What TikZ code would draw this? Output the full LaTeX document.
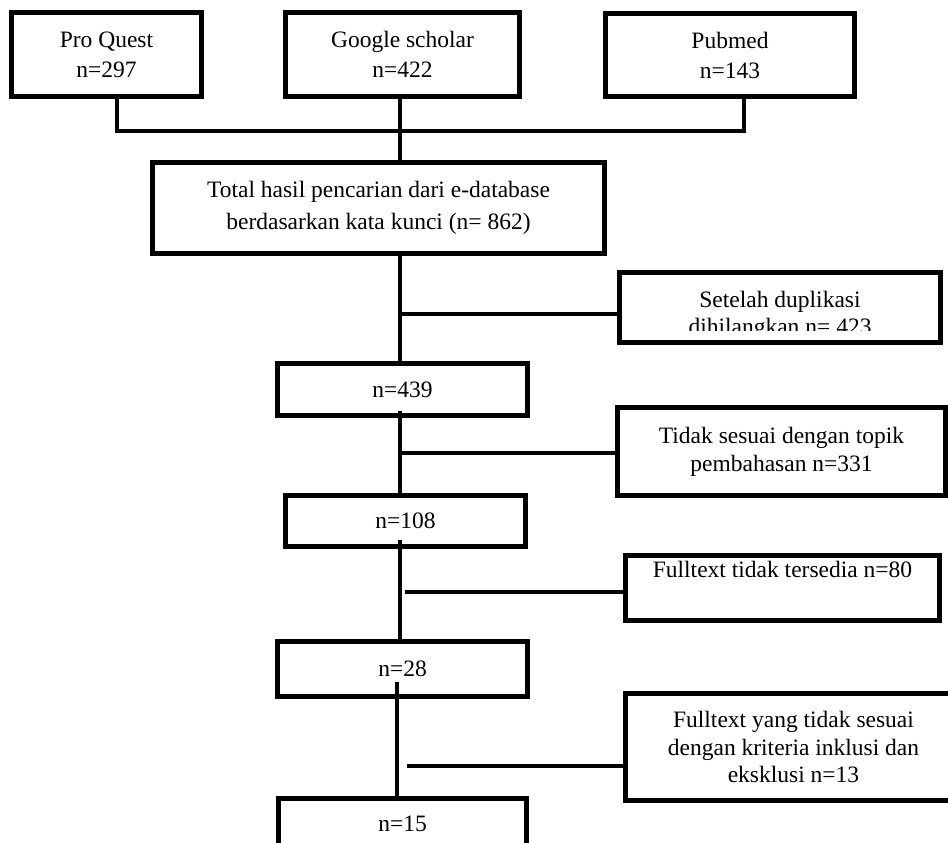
\documentclass[tikz,border=0pt]{standalone}
\usepackage{fontspec}
\setmainfont{Liberation Serif}
\begin{document}
\begin{tikzpicture}[x=1pt,y=-1pt,
  box/.style={draw, line width=5pt, outer sep=0pt, inner sep=0pt, align=center,
              font=\fontsize{23.5}{28}\selectfont},
  lbl/.style={inner sep=0pt, outer sep=0pt, align=center, font=\fontsize{23.5}{27}\selectfont},
  conn/.style={line width=3.5pt}]
\clip (0,0) rectangle (948,843);
\fill[white] (0,0) rectangle (948,843);

% top sources
\node[box, minimum width=190, minimum height=84, font=\fontsize{23.5}{30}\selectfont] (pq) at (106.5,54.5) {Pro Quest\\n=297};
\node[box, minimum width=234, minimum height=84, font=\fontsize{23.5}{30}\selectfont] (gs) at (402.5,54.5) {Google scholar\\n=422};
\node[box, minimum width=249, minimum height=83, font=\fontsize{23.5}{30}\selectfont] (pm) at (730,55) {Pubmed\\n=143};

% total
\node[box, minimum width=452, minimum height=91, font=\fontsize{23.5}{32}\selectfont] (tot) at (378.5,208) {Total hasil pencarian dari e-database\\berdasarkan kata kunci (n= 862)};

% main column
\node[box, minimum width=250, minimum height=52] (n439) at (402.5,389.5) {n=439};
\node[box, minimum width=240, minimum height=51] (n108) at (405.5,521) {n=108};
\node[box, minimum width=250, minimum height=55] (n28) at (402.5,669) {n=28};
\node[box, minimum width=248, minimum height=51] (n15) at (402.5,824) {n=15};

% side boxes
\node[box, minimum width=321, minimum height=70] (set) at (780,307.5) {};
\begin{scope}
  \clip (620,273) rectangle (940,330);
  \node[lbl] (settext) at (780,315) {Setelah duplikasi\\dihilangkan n= 423};
\end{scope}
\node[box, minimum width=328, minimum height=88] (tid) at (781.5,451.5) {Tidak sesuai dengan topik\\pembahasan n=331};
\node[box, minimum width=314, minimum height=65] (ft80) at (782.5,588) {Fulltext tidak tersedia n=80\\\strut};
\node[box, minimum width=337, minimum height=107, font=\fontsize{23.5}{27.5}\selectfont] (ft13) at (793.5,747) {Fulltext yang tidak sesuai\\dengan kriteria inklusi dan\\eksklusi n=13};

% spine coordinates
\coordinate (spine) at (400,0);
\coordinate (spineb) at (397,0);
\coordinate (b1) at (400,314);
\coordinate (b2) at (400,453);
\coordinate (b3) at (405,592);
\coordinate (b4) at (407,766);

% top connectors
\draw[conn] ([xshift=10.5pt]pq.south) -- ++(0,34.25) -| ([xshift=14pt]pm.south);
\draw[conn] (spine |- gs.south) -- (spine |- tot.north);

% main line
\draw[conn] (spine |- tot.south) -- (spine |- n439.north);
\draw[conn] ([yshift=5pt]spine |- n439.south) -- (spine |- n108.north);
\draw[conn] ([yshift=7pt]spine |- n108.south) -- (spine |- n28.north);
\draw[conn] ([yshift=15pt]spineb |- n28.south) -- ([yshift=-2pt]spineb |- n15.north);

% branches
\draw[conn] (b1) -- (b1 -| set.west);
\draw[conn] (b2) -- (b2 -| tid.west);
\draw[conn] (b3) -- (b3 -| ft80.west);
\draw[conn] (b4) -- (b4 -| ft13.west);
\end{tikzpicture}
\end{document}
